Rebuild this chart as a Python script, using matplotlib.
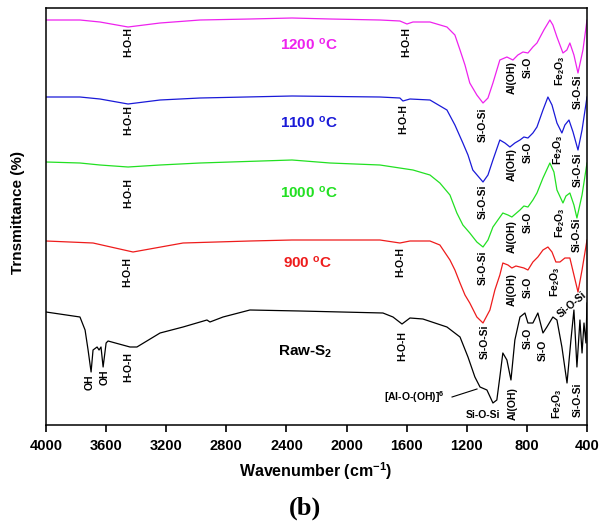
import matplotlib
matplotlib.use("Agg")
import matplotlib.pyplot as plt

plt.rcParams['font.family'] = ['Liberation Sans', 'DejaVu Sans']
plt.rcParams['mathtext.fontset'] = 'custom'
plt.rcParams['mathtext.rm'] = 'Liberation Sans'
plt.rcParams['mathtext.bf'] = 'Liberation Sans:bold'
plt.rcParams['mathtext.it'] = 'Liberation Sans:italic'

# ---------------- data (wavenumber cm-1, offset transmittance a.u.) ----------------
w_1200 = [4000, 3774, 3641, 3454, 3241, 2975, 2643, 2363, 2110, 1778, 1645, 1598, 1558, 1445, 1332, 1279,
          1245, 1212, 1180, 1133, 1092, 1059, 1026, 980, 933, 893, 860, 826, 793, 760, 733, 687, 647, 627,
          600, 560, 534, 514, 487, 460, 427, 400]
t_1200 = [405, 405, 403, 398, 402, 405, 406, 407, 406, 405, 404, 401, 403, 403, 398, 390,
          375, 360, 342, 330, 322, 327, 342, 365, 368, 365, 370, 373, 372, 378, 382, 395, 405, 400,
          388, 372, 375, 382, 370, 352, 375, 405]

w_1100 = [4000, 3774, 3641, 3454, 3241, 2975, 2363, 1778, 1645, 1625, 1578, 1445, 1332, 1279, 1226, 1192,
          1160, 1126, 1092, 1059, 1026, 980, 946, 913, 880, 846, 820, 793, 760, 733, 693, 660, 633, 600,
          567, 547, 520, 493, 460, 433, 400]
t_1100 = [328, 328, 326, 321, 325, 327, 329, 328, 327, 324, 326, 325, 315, 300, 282, 270,
          255, 249, 243, 250, 265, 285, 282, 278, 282, 285, 288, 287, 292, 298, 315, 328, 320, 302,
          292, 300, 305, 293, 275, 295, 328]

w_1000 = [4000, 3774, 3641, 3454, 3241, 2975, 2363, 2110, 1778, 1558, 1445, 1379, 1312, 1266, 1226, 1180,
          1133, 1092, 1059, 1026, 960, 926, 900, 846, 820, 793, 760, 733, 693, 647, 620, 600, 560, 540,
          514, 487, 467, 433, 400]
t_1000 = [263, 262, 260, 258, 260, 262, 265, 262, 260, 255, 250, 242, 230, 212, 200, 192,
          183, 178, 185, 198, 212, 210, 208, 215, 219, 218, 225, 232, 247, 262, 253, 235, 222, 229,
          232, 220, 207, 230, 262]

w_900 = [4000, 3687, 3421, 3088, 2643, 2363, 1778, 1645, 1578, 1445, 1379, 1312, 1279, 1245, 1212, 1180,
         1133, 1092, 1046, 1013, 980, 960, 926, 900, 873, 846, 820, 793, 760, 727, 693, 660, 633, 607,
         580, 547, 514, 487, 460, 433, 400]
t_900 = [184, 182, 173, 182, 184, 185, 185, 182, 184, 184, 180, 165, 155, 142, 130, 122,
         108, 102, 115, 135, 150, 162, 160, 157, 159, 158, 157, 155, 163, 168, 175, 178, 173, 163,
         163, 167, 167, 150, 133, 155, 185]

w_raw = [4000, 3774, 3740, 3720, 3700, 3687, 3660, 3647, 3634, 3620, 3600, 3587, 3441, 3395, 3241, 3088,
         2929, 2909, 2822, 2643, 2310, 1758, 1691, 1631, 1578, 1492, 1332, 1245, 1192, 1146, 1112, 1066,
         1026, 1000, 980, 960, 933, 906, 880, 846, 813, 793, 760, 727, 693, 667, 627, 600, 567, 533,
         507, 487, 467, 447, 433, 420, 407, 400]
t_raw = [113, 108, 95, 75, 53, 75, 78, 75, 78, 58, 82, 84, 78, 78, 92, 98,
         105, 103, 108, 115, 114, 112, 108, 101, 107, 106, 98, 88, 68, 48, 38, 35,
         22, 25, 48, 72, 65, 45, 85, 108, 112, 102, 102, 112, 92, 98, 108, 105, 78, 42,
         85, 115, 58, 105, 72, 102, 82, 122]

series = [
    (w_raw, t_raw, '#000000'),
    (w_900, t_900, '#ee1c1c'),
    (w_1000, t_1000, '#22e022'),
    (w_1100, t_1100, '#1a1ad8'),
    (w_1200, t_1200, '#ee22ee'),
]

# sample labels
sample_names = ['Raw-S$_\\mathbf{2}$', '900 $^\\mathbf{o}$C', '1000 $^\\mathbf{o}$C',
                '1100 $^\\mathbf{o}$C', '1200 $^\\mathbf{o}$C']
sample_colors = ['#000000', '#ee1c1c', '#22e022', '#1a1ad8', '#ee22ee']
sample_w = [2277, 2257, 2250, 2250, 2250]
sample_t = [73, 162, 232, 302, 380]

# band assignments: text, wavenumber, offset, rotation
HOH = 'H-O-H'
SOS = 'Si-O-Si'
FEO = 'Fe$_\\mathbf{2}$O$_\\mathbf{3}$'
ann_text = [HOH, HOH, SOS, 'Al(OH)', 'Si-O', FEO, SOS,
            HOH, HOH, SOS, 'Al(OH)', 'Si-O', FEO, SOS,
            HOH, SOS, 'Al(OH)', 'Si-O', FEO, SOS,
            HOH, HOH, SOS, 'Al(OH)', 'Si-O', FEO, SOS,
            'OH', 'OH', HOH, HOH, SOS, 'Al(OH)', 'Si-O', 'Si-O', FEO, SOS,
            '[Al-O-(OH)]$^\\mathbf{6}$']
ann_w = [3450, 1600, 1092, 899, 793, 580, 460,
         3450, 1625, 1092, 899, 793, 593, 460,
         3450, 1092, 899, 793, 580, 467,
         3460, 1644, 1079, 899, 793, 613, 500,
         3707, 3607, 3450, 1631, 1092, 892, 793, 693, 600, 460,
         1551]
ann_t = [383, 383, 300, 347, 358, 354, 333,
         305, 306, 223, 260, 273, 275, 255,
         232, 157, 188, 203, 202, 190,
         153, 163, 83, 135, 138, 143, 120,
         43, 48, 58, 79, 10, 21, 87, 75, 21, 25,
         28]
ann_rot = [90, 90, 90, 90, 90, 90, 90,
           90, 90, 90, 90, 90, 90, 90,
           90, 90, 90, 90, 90, 90,
           90, 90, 90, 90, 90, 90, 40,
           90, 90, 90, 90, 0, 90, 90, 90, 90, 90,
           0]

# ---------------- figure ----------------
fig = plt.figure(figsize=(6.0, 5.27), dpi=100)
ax = fig.add_axes([46/600, 1-425/527, (587-46)/600, (425-8)/527])

for w, t, c in series:
    ax.plot(w, t, color=c, lw=0.9)

for name, c, w, t in zip(sample_names, sample_colors, sample_w, sample_t):
    ax.text(w, t, name, color=c, fontsize=11, fontweight='bold', ha='center', va='center')

for s, w, t, r in zip(ann_text, ann_w, ann_t, ann_rot):
    ax.text(w, t, s, rotation=r, fontsize=7.5, fontweight='bold', ha='center', va='center',
            rotation_mode='anchor')

ax.plot([1298, 1132], [28, 36], color='black', lw=0.8)

ax.set_xlim(4000, 400)
ax.set_ylim(0, 417)
ax.set_xticks(range(4000, 399, -400))
ax.tick_params(axis='x', direction='out', length=5, width=1.2, labelsize=10.5, pad=5)
for lab in ax.get_xticklabels():
    lab.set_fontweight('bold')
ax.set_yticks([])
for sp in ax.spines.values():
    sp.set_linewidth(1.1)

fig.text(18/600, 1-212/527, 'Trnsmittance (%)', rotation=90, ha='center', va='center',
         fontsize=11, fontweight='bold')
fig.text(316/600, 1-471/527, 'Wavenumber (cm$^\\mathbf{-1}$)', ha='center', va='center',
         fontsize=11.5, fontweight='bold')
fig.text(305/600, 1-508/527, '(b)', ha='center', va='center', fontsize=19, fontweight='bold',
         family='Liberation Serif')

fig.savefig('out.png', dpi=100)
